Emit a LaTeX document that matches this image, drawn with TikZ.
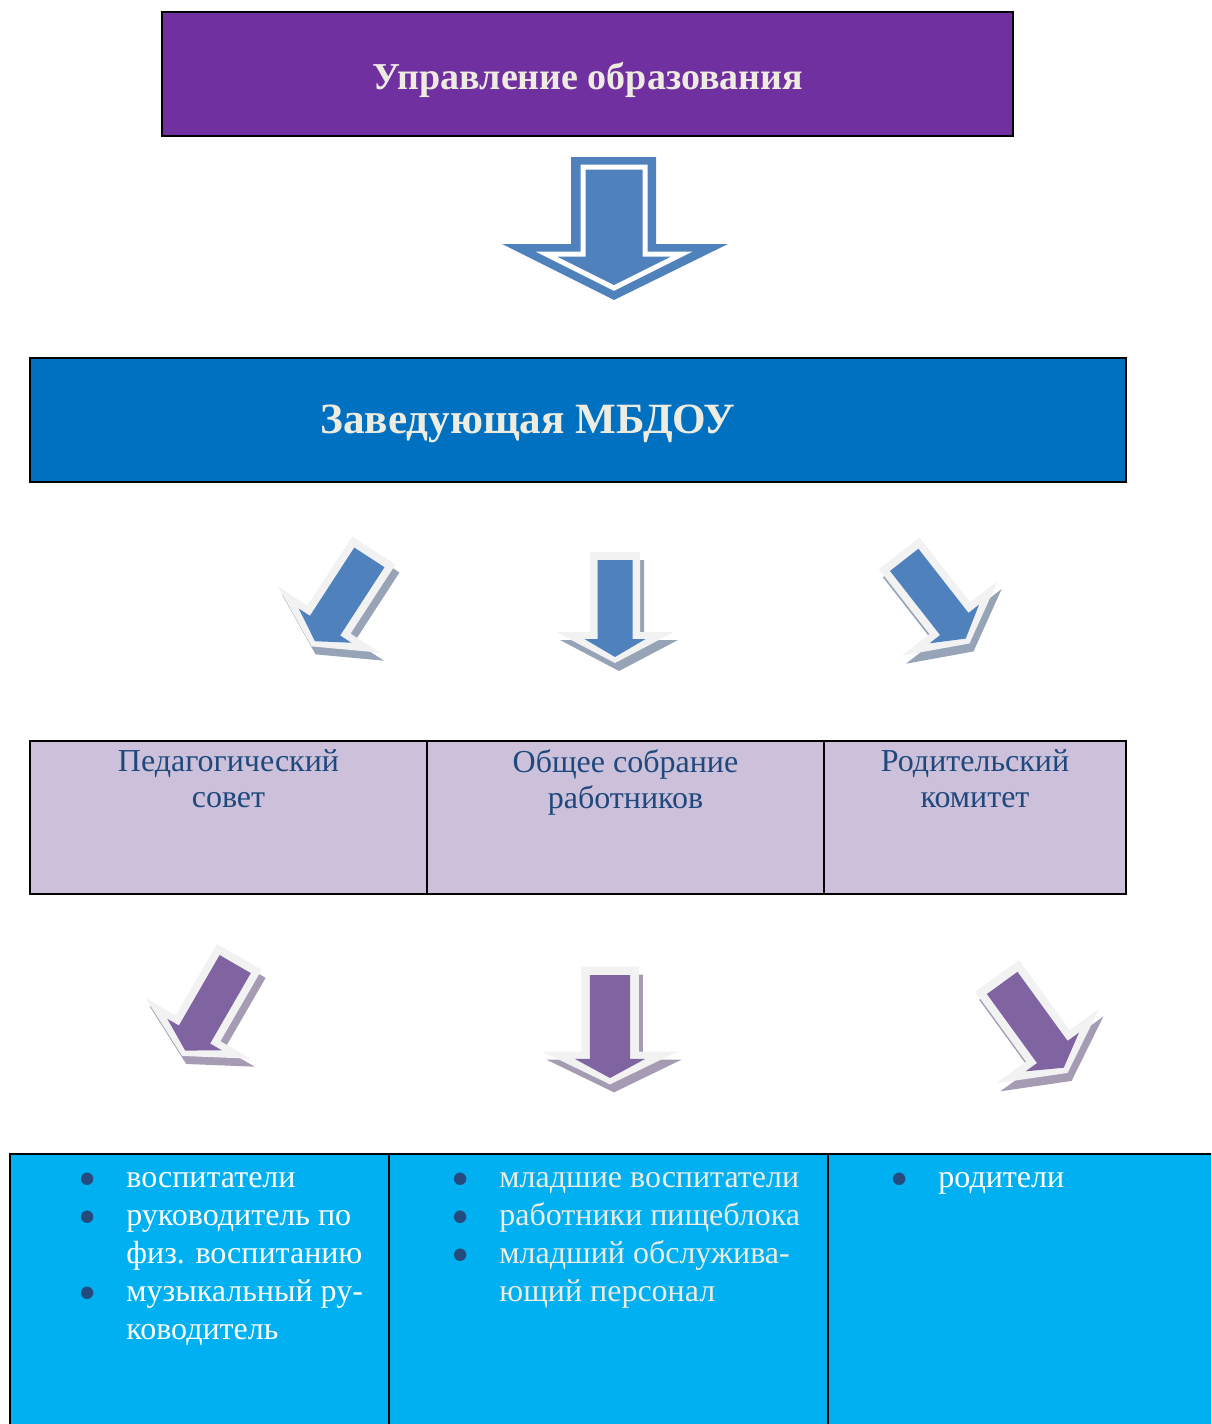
\documentclass[tikz,border=0pt]{standalone}
\usepackage{fontspec}
\setmainfont{Liberation Serif}
\usepackage{xcolor}
\usetikzlibrary{positioning}

\definecolor{upravviolet}{HTML}{7030A0}
\definecolor{zavblue}{HTML}{0070C0}
\definecolor{sovetlilac}{HTML}{CCC0DA}
\definecolor{staffcyan}{HTML}{00B0F0}
\definecolor{cream}{HTML}{EEECE1}
\definecolor{navytext}{HTML}{1F497D}
\definecolor{bulletnavy}{HTML}{254B7E}
\definecolor{arrowblue}{HTML}{4F81BD}
\definecolor{arrowviolet}{HTML}{8064A2}
\definecolor{arrowrim}{HTML}{F2F2F2}
\definecolor{shadowblue}{HTML}{97A3B6}
\definecolor{shadowviolet}{HTML}{A59BB3}

\tikzset{
  bigbox/.style={rectangle, draw=black, line width=0.9pt, minimum height=62pt, inner sep=0pt},
  bigtext/.style={inner sep=0pt, text=cream, font=\bfseries\fontsize{19pt}{23pt}\selectfont},
  cell/.style={rectangle, draw=black, line width=0.9pt, fill=sovetlilac, minimum height=76.5pt,
    inner sep=0pt, outer sep=0pt},
  celltext/.style={align=center, inner sep=0pt, text=navytext, font=\fontsize{16pt}{18pt}\selectfont},
  staffcell/.style={rectangle, draw=black, line width=0.9pt, fill=staffcyan, minimum height=145pt,
    inner sep=0pt, outer sep=0pt},
  stafftext/.style={align=left, inner sep=0pt, anchor=north west, font=\fontsize{16pt}{19.1pt}\selectfont},
}

% list bullet and hanging indent
\newcommand{\bul}{\makebox[24pt][l]{\raisebox{-4.6pt}{\textcolor{bulletnavy}{\fontsize{26pt}{19pt}\selectfont •}}}}
\newcommand{\bulskip}{\hspace*{24pt}}

% flat arrow with light rim and shadow: x, y, angle, scaling, fill, shadow
\newcommand{\flatarrow}[6]{%
  \begin{scope}[shift={(#1,#2)}]
    \fill[#6, shift={(4,8)}, rotate=#3, #4] (-25,-55) -- (25,-55) -- (25,25) -- (59,25) -- (0,56) -- (-59,25) -- (-25,25) -- cycle;
    \fill[arrowrim, rotate=#3, #4] (-25,-55) -- (25,-55) -- (25,25) -- (59,25) -- (0,56) -- (-59,25) -- (-25,25) -- cycle;
    \fill[#5, rotate=#3, #4] (-17.5,-47) -- (17.5,-47) -- (17.5,32) -- (30.5,32) -- (0,50) -- (-30.5,32) -- (-17.5,32) -- cycle;
  \end{scope}}

\begin{document}
\begin{tikzpicture}[x=0.5pt, y=-0.5pt]
  \useasboundingbox (0,0) rectangle (1211,1424);
  \clip (0,0) rectangle (1211,1424);

  % head boxes
  \node[bigbox, fill=upravviolet, minimum width=425.5pt] (uprav) at (587.5,74) {};
  \node[bigtext] (upravtxt) at (588,80) {Управление образования};
  \node[bigbox, fill=zavblue, minimum width=548pt] (zav) at (578,420) {};
  \node[bigtext, font=\bfseries\fontsize{21.6pt}{26pt}\selectfont] (zavtxt) at (528,424) {Заведующая МБДОУ};

  % big arrow
  \fill[arrowblue] (571,157) -- (656,157) -- (656,244) -- (728,244) -- (614,300) -- (502,244) -- (571,244) -- cycle;
  \draw[white, line width=2.5pt] (583,167) -- (645,167) -- (645,254) -- (682,254) -- (614,288) -- (546,254) -- (583,254) -- cycle;

  % arrows to the councils
  \flatarrow{343}{598}{-33}{scale=1.03}{arrowblue}{shadowblue}
  \flatarrow{615}{607}{0}{scale=1}{arrowblue}{shadowblue}
  \flatarrow{934}{598}{38}{scale=1.03}{arrowblue}{shadowblue}

  % councils
  \node[cell, minimum width=198.5pt] (ped) at (228.5,817.5) {};
  \node[cell, minimum width=198.5pt, right=0pt of ped] (obsh) {};
  \node[cell, minimum width=151pt, right=0pt of obsh] (rod) {};
  \node[celltext, below=4pt of ped.north] (pedtxt) {Педагогический\\совет};
  \node[celltext, below=4pt of obsh.north] (obshtxt) {Общее собрание\\работников};
  \node[celltext, below=4pt of rod.north] (rodtxt) {Родительский\\комитет};

  % arrows to the staff
  \flatarrow{211}{1006}{-30}{scale=1.03}{arrowviolet}{shadowviolet}
  \flatarrow{610}{1025}{0}{xscale=1.15,yscale=1.06}{arrowviolet}{shadowviolet}
  \flatarrow{1032}{1024}{36}{scale=1.08}{arrowviolet}{shadowviolet}

  % staff
  \node[staffcell, minimum width=189.5pt] (vosp) at (199.5,1299) {};
  \node[staffcell, minimum width=219.5pt, right=0pt of vosp] (mlad) {};
  \node[staffcell, minimum width=196pt, right=0pt of mlad] (roditeli) {};
  \node[stafftext, text=white] (vosptxt) at (78,1160) {\strut\bul воспитатели\\
    \bul руководитель по\\
    \bulskip физ. воспитанию\\
    \bul музыкальный ру-\\
    \bulskip ководитель};
  \node[stafftext, text=cream] (mladtxt) at (451,1160) {\strut\bul младшие воспитатели\\
    \bul работники пищеблока\\
    \bul младший обслужива-\\
    \bulskip ющий персонал};
  \node[stafftext, text=white] (rodtxt2) at (890,1160) {\strut\bul родители};
\end{tikzpicture}
\end{document}
